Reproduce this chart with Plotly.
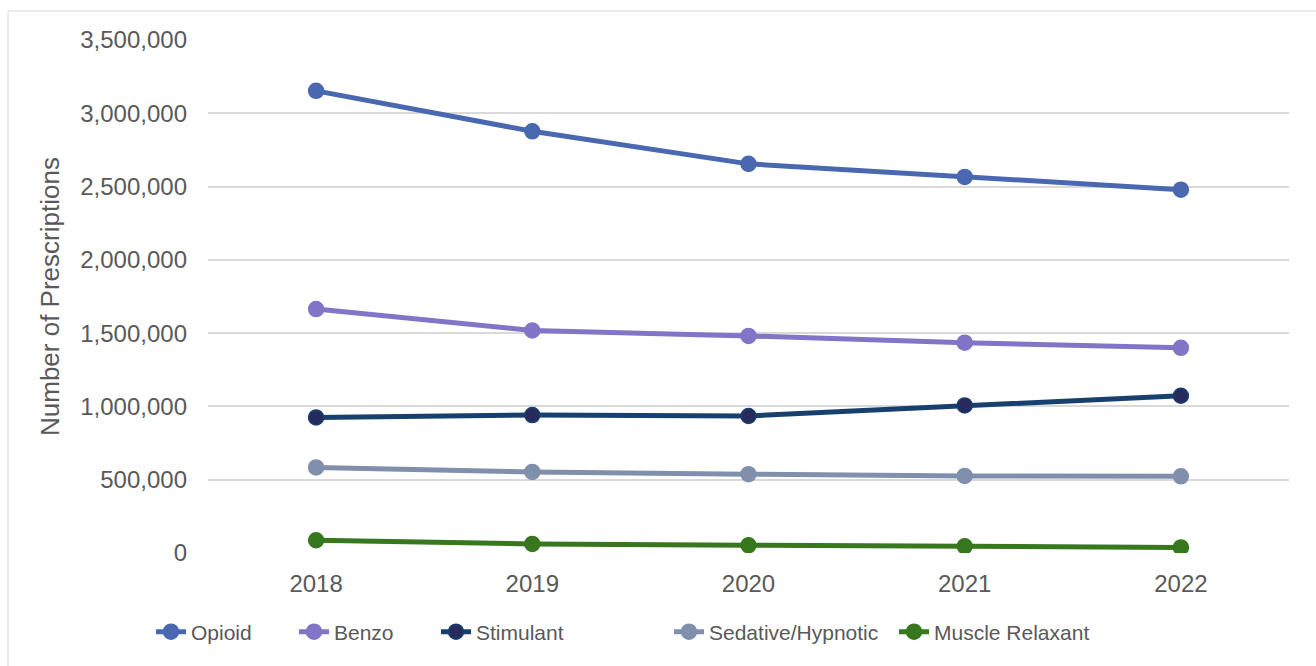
import plotly.graph_objects as go

# Annual prescription counts by drug class
years = ["2018", "2019", "2020", "2021", "2022"]
opioid = [3153000, 2877000, 2655000, 2566000, 2479000]
benzo = [1664000, 1518000, 1481000, 1435000, 1400000]
stimulant = [925000, 941000, 935000, 1007000, 1073000]
sedative = [584000, 553000, 538000, 526000, 523000]
muscle_relaxant = [87000, 62000, 53000, 46000, 38000]

y_ticks = [0, 500000, 1000000, 1500000, 2000000, 2500000, 3000000, 3500000]
y_tick_labels = ["0", "500,000", "1,000,000", "1,500,000", "2,000,000",
                 "2,500,000", "3,000,000", "3,500,000"]

# name, values, line colour, marker fill, marker edge, legend text x (px)
series = [
    ("Opioid", opioid, "#4A68B0", "#4A68B0", "#4A68B0", 192),
    ("Benzo", benzo, "#8274C6", "#8274C6", "#8274C6", 335),
    ("Stimulant", stimulant, "#17406E", "#272A5C", "#17406E", 477),
    ("Sedative/Hypnotic", sedative, "#808FAB", "#808FAB", "#808FAB", 710),
    ("Muscle Relaxant", muscle_relaxant, "#37771D", "#37771D", "#37771D", 935),
]

FONT = "Liberation Sans, Arial, sans-serif"
TEXT = "#595959"

W, H = 1316, 666
L, R, T, B = 208, 27, 40, 113
pw, ph = W - L - R, H - T - B

def px_x(p):
    return (p - L) / pw

def px_y(p):
    return (H - B - p) / ph

fig = go.Figure()
legends = {}
for i, (name, vals, line_c, fill_c, edge_c, text_x) in enumerate(series):
    key = "legend" if i == 0 else f"legend{i + 1}"
    fig.add_trace(go.Scatter(
        x=years, y=vals, name=name, mode="lines+markers",
        line=dict(color=line_c, width=5),
        marker=dict(size=15, color=fill_c, line=dict(color=edge_c, width=1.5)),
        legend=key,
    ))
    legends[key] = dict(
        orientation="h", x=px_x(text_x - 41), xanchor="left",
        y=px_y(632), yanchor="middle",
        font=dict(size=21, color=TEXT, family=FONT),
        bgcolor="rgba(0,0,0,0)",
    )

fig.update_layout(
    width=W, height=H,
    margin=dict(l=L, r=R, t=T, b=B),
    paper_bgcolor="white", plot_bgcolor="white",
    font=dict(family=FONT, color=TEXT, size=24),
    showlegend=True,
    xaxis=dict(
        type="category", range=[-0.5, 4.5],
        showgrid=False, zeroline=False, showline=False,
        ticks="", ticklabelstandoff=14,
        tickfont=dict(size=24, color=TEXT),
    ),
    yaxis=dict(
        range=[0, 3500000], tickvals=y_ticks, ticktext=y_tick_labels,
        showgrid=True, gridcolor="#D9D9D9", gridwidth=1.5,
        zeroline=False, showline=False, ticks="", ticklabelstandoff=20,
        tickfont=dict(size=24, color=TEXT),
    ),
    shapes=[dict(
        type="rect", xref="paper", yref="paper",
        x0=px_x(8), x1=px_x(1340), y0=px_y(690), y1=px_y(11),
        line=dict(color="#D9D9D9", width=1), fillcolor="rgba(0,0,0,0)",
        layer="below",
    )],
    annotations=[dict(
        text="Number of Prescriptions", textangle=-90,
        xref="paper", yref="paper", x=px_x(50), y=px_y(297),
        xanchor="center", yanchor="middle", showarrow=False,
        font=dict(size=26, color=TEXT),
    )],
    **legends,
)

fig.write_html("out.html")
